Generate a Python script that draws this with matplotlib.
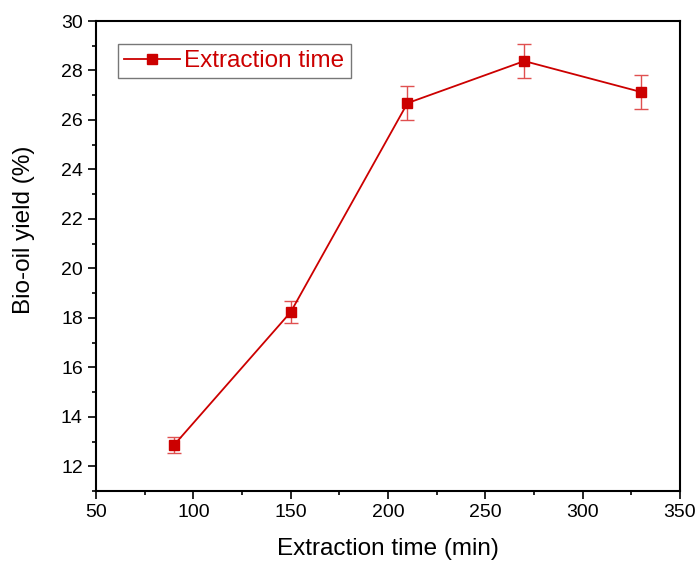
import matplotlib.pyplot as plt
from matplotlib.ticker import MultipleLocator

plt.rcParams['font.family'] = ['Liberation Sans', 'DejaVu Sans']

# data
time_min = [90, 150, 210, 270, 330]
yield_pct = [12.85, 18.23, 26.68, 28.38, 27.13]
yield_err = [0.33, 0.45, 0.69, 0.70, 0.68]

red = '#cc0000'

fig = plt.figure(figsize=(6.96, 5.62), dpi=100)
ax = fig.add_axes([96 / 696, 71 / 562, 584 / 696, 470 / 562])

ax.errorbar(time_min, yield_pct, yerr=yield_err, fmt='none', ecolor='#e05050',
            elinewidth=1, capsize=5, capthick=1)
ax.plot(time_min, yield_pct, color=red, marker='s', markersize=7,
        linewidth=1.3, label='Extraction time')

ax.set_xlim(50, 350)
ax.set_ylim(11, 30)
ax.xaxis.set_major_locator(MultipleLocator(50))
ax.xaxis.set_minor_locator(MultipleLocator(25))
ax.yaxis.set_major_locator(MultipleLocator(2))
ax.yaxis.set_minor_locator(MultipleLocator(1))
ax.tick_params(which='both', direction='out', top=False, right=False,
               labelsize=14, width=1.2)
ax.tick_params(which='major', length=6)
ax.tick_params(which='minor', length=3)
for s in ax.spines.values():
    s.set_linewidth(1.5)

ax.set_xlabel('Extraction time (min)', fontsize=17.5, labelpad=12)
ax.set_ylabel('Bio-oil yield (%)', fontsize=17.5, labelpad=19, y=0.555)

leg = ax.legend(loc='upper left', bbox_to_anchor=(0.037, 0.951), fontsize=17.5,
                fancybox=False, edgecolor='#555555', handlelength=2.3,
                borderpad=0.25, handletextpad=0.2, borderaxespad=0)
for t in leg.get_texts():
    t.set_color(red)

fig.savefig('out.png', dpi=100)
